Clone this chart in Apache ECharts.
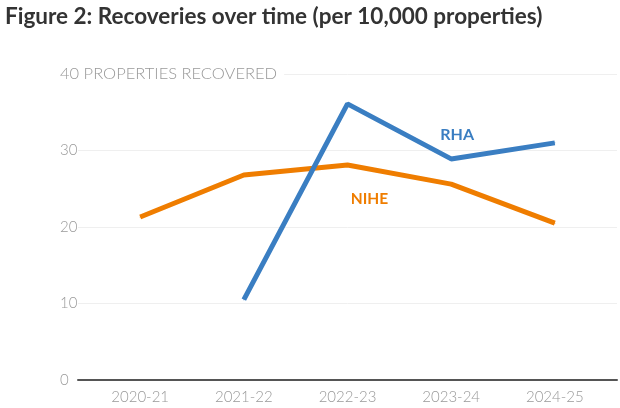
<!DOCTYPE html>
<html>
<head>
<meta charset="utf-8">
<script src="https://cdn.jsdelivr.net/npm/echarts@6/dist/echarts.min.js"></script>
<style>
  html, body { margin: 0; padding: 0; background: #fff; }
  #chart { width: 620px; height: 408px; }
</style>
</head>
<body>
<div id="chart"></div>
<script>
// 数据
const categories = ['2020-21', '2021-22', '2022-23', '2023-24', '2024-25'];
const niheValues = [21.3, 26.8, 28.1, 25.6, 20.5];
const rhaValues  = [null, 10.5, 36.1, 28.9, 31.0];
const yTicks = [0, 10, 20, 30, 40];
const yTopLabel = 'PROPERTIES RECOVERED';

const BLUE = '#3a7ec2';
const ORANGE = '#ef7d00';
const FONT = 'Lato, "Open Sans", sans-serif';

// 转成 [index, value]，跳过空值
function toPoints(values) {
    return values
        .map((v, i) => [i, v])
        .filter(p => p[1] !== null);
}

// 在某个点上挂系列名标签
function withLabel(points, idx, label) {
    return points.map((p, i) => i === idx ? { value: p, label: label } : p);
}

const myChart = echarts.init(document.getElementById('chart'));

const option = {
    animation: false,
    title: {
        text: 'Figure 2: Recoveries over time (per 10,000 properties)',
        left: 0,
        top: 0,
        textStyle: { fontFamily: FONT, fontSize: 22.5, fontWeight: 'bold', color: '#333' }
    },
    grid: { left: 78, right: 0, top: 74, bottom: 28 },
    xAxis: {
        type: 'value',
        min: -0.6,
        max: 4.6,
        splitLine: { show: false },
        axisTick: { show: false },
        axisLine: { show: true, onZero: false, lineStyle: { color: '#555', width: 2 } },
        axisLabel: {
            margin: 10,
            fontFamily: FONT,
            fontSize: 15,
            fontWeight: 300,
            color: '#999',
            formatter: v => Number.isInteger(v) ? (categories[Math.abs(v)] || '') : ''
        }
    },
    yAxis: {
        type: 'value',
        min: yTicks[0],
        max: yTicks[yTicks.length - 1],
        interval: 10,
        axisLine: { show: false },
        axisTick: { show: false },
        splitLine: { lineStyle: { color: '#efefef', width: 1 } },
        axisLabel: {
            align: 'left',
            margin: 18,
            fontFamily: FONT,
            fontSize: 15,
            fontWeight: 300,
            color: '#999',
            // 顶部刻度带单位文字，白底盖住刻度线
            formatter: v => v === yTicks[yTicks.length - 1] ? `{top|${v} ${yTopLabel}}` : String(v),
            rich: {
                top: {
                    fontFamily: FONT,
                    fontSize: 16.5,
                    fontWeight: 300,
                    color: '#999',
                    backgroundColor: '#fff',
                    padding: [2, 7, 2, 0]
                }
            }
        }
    },
    series: [
        {
            name: 'NIHE',
            type: 'line',
            data: withLabel(toPoints(niheValues), 2, {
                show: true, formatter: 'NIHE', position: 'bottom',
                offset: [22, 20], color: ORANGE,
                fontFamily: FONT, fontSize: 15.5, fontWeight: 'bold'
            }),
            symbol: 'circle',
            symbolSize: 1,
            showSymbol: true,
            lineStyle: { color: ORANGE, width: 5 },
            itemStyle: { color: ORANGE },
            z: 3
        },
        {
            name: 'RHA',
            type: 'line',
            data: withLabel(toPoints(rhaValues), 2, {
                show: true, formatter: 'RHA', position: 'top',
                offset: [6, -11], color: BLUE,
                fontFamily: FONT, fontSize: 16, fontWeight: 'bold'
            }),
            symbol: 'circle',
            symbolSize: 1,
            showSymbol: true,
            lineStyle: { color: BLUE, width: 5 },
            itemStyle: { color: BLUE },
            z: 4
        }
    ]
};

myChart.setOption(option);
</script>
</body>
</html>
